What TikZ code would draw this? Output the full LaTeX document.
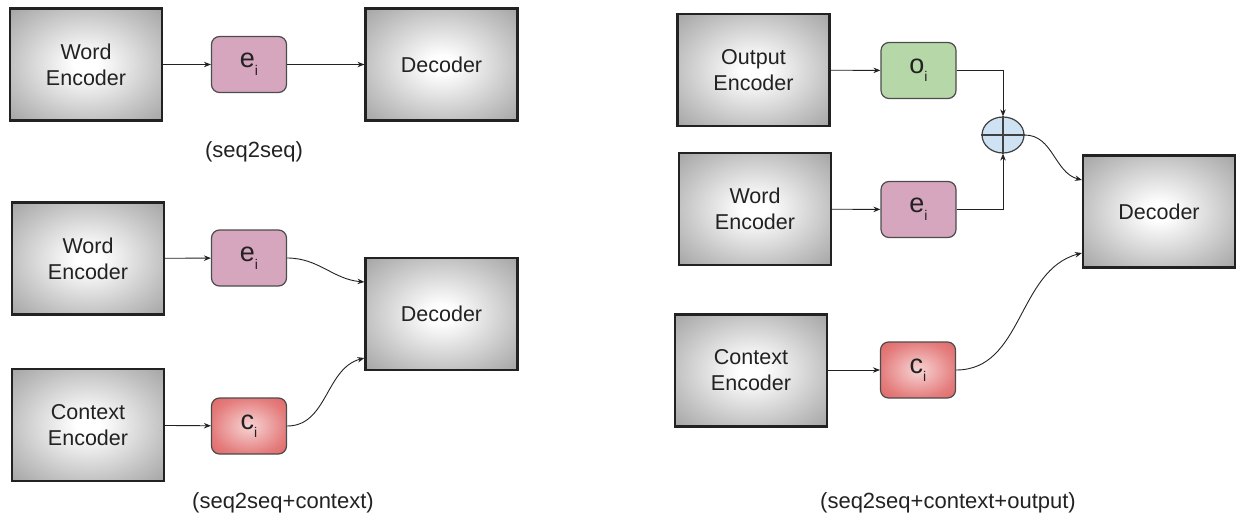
\documentclass[tikz,border=0pt]{standalone}
\usepackage{fontspec}
\setmainfont{Liberation Sans}
\usetikzlibrary{arrows.meta,shapes.geometric,calc}
\definecolor{pinkv}{HTML}{D5A6BD}
\definecolor{greenv}{HTML}{B6D7A8}
\definecolor{redout}{HTML}{E06666}
\definecolor{redin}{HTML}{F7D4D4}
\definecolor{bluev}{HTML}{CFE2F3}
\definecolor{ink}{HTML}{222222}
\pgfdeclareradialshading{boxshade}{\pgfpoint{0bp}{0bp}}{color(0bp)=(white); color(4bp)=(white); color(25bp)=(black!24); color(36bp)=(black!36); color(50bp)=(black!36)}
\pgfdeclareradialshading{redshade}{\pgfpoint{0bp}{0bp}}{color(0bp)=(redin); color(25bp)=(redout!85!white); color(36bp)=(redout); color(50bp)=(redout)}
\newcommand\mysub[1]{\raisebox{-8pt}{\fontsize{14}{14}\selectfont #1}}
\begin{document}
\begin{tikzpicture}[x=1pt,y=-1pt,
  bigbox/.style={draw=ink, line width=2.2pt, shading=boxshade,
    minimum width=152pt, minimum height=112pt, align=center, inner sep=0pt,
    font=\fontsize{21.5}{26}\selectfont, text=ink},
  vec/.style={draw=black!70, line width=1.2pt, rounded corners=8pt, minimum width=75pt,
    minimum height=56pt, inner sep=0pt, font=\fontsize{27}{28}\selectfont, text=ink},
  conn/.style={line width=0.9pt, draw=ink, -{Stealth[length=7pt,width=5.5pt]}},
  captext/.style={font=\fontsize{22}{24}\selectfont, text=ink}]
\useasboundingbox (0,0) rectangle (1238,516);

% ---- seq2seq ----
\node[bigbox] (we1) at (86,64.5) {Word\\Encoder};
\node[vec, fill=pinkv] (e1) at (249,64.5) {e\mysub{i}};
\node[bigbox] (dec1) at (441.5,64.5) {Decoder};
\node[captext] (cap1) at (254,152) {(seq2seq)};
\draw[conn] (we1) -- (e1);
\draw[conn] (e1) -- (dec1);

% ---- seq2seq+context ----
\node[bigbox] (we2) at (88,258.5) {Word\\Encoder};
\node[vec, fill=pinkv] (e2) at (249,258) {e\mysub{i}};
\node[bigbox] (ce2) at (88,425) {Context\\Encoder};
\node[vec, shading=redshade] (c2) at (249,426) {c\mysub{i}};
\node[bigbox] (dec2) at (441.5,314) {Decoder};
\node[captext] (cap2) at (283,503) {(seq2seq+context)};
\draw[conn] (we2) -- (e2);
\draw[conn] (ce2) -- (c2);
\draw[conn] (e2.east) to[out=0,in=175] ([yshift=32pt]dec2.west);
\draw[conn] (c2.east) to[out=0,in=195] ([yshift=-44pt]dec2.west);

% ---- seq2seq+context+output ----
\node[bigbox] (oe) at (753.5,70) {Output\\Encoder};
\node[vec, fill=greenv] (o3) at (918.5,70.5) {o\mysub{i}};
\node[bigbox] (we3) at (755,209) {Word\\Encoder};
\node[vec, fill=pinkv] (e3) at (918.5,209.5) {e\mysub{i}};
\node[bigbox] (ce3) at (751,370.5) {Context\\Encoder};
\node[vec, shading=redshade] (c3) at (918,370) {c\mysub{i}};
\node[bigbox] (dec3) at (1159,211.5) {Decoder};
\node[draw=black!75, line width=1.2pt, fill=bluev, ellipse, minimum width=42pt, minimum height=36pt, inner sep=0pt] (plus) at (1003,135) {};
\draw[black!75, line width=1.2pt] (plus.north) -- (plus.south) (plus.west) -- (plus.east);
\node[captext] (cap3) at (948,503) {(seq2seq+context+output)};
\draw[conn] (oe) -- (o3);
\draw[conn] (we3) -- (e3);
\draw[conn] (ce3.east |- c3) -- (c3);
\draw[conn] (o3.east) -| (plus.north);
\draw[conn] (e3.east) -| (plus.south);
\draw[conn] (plus.east) to[out=0,in=165] ([yshift=31.5pt]dec3.west);
\draw[conn] (c3.east) to[out=0,in=195] ([yshift=-41.5pt]dec3.west);
\end{tikzpicture}
\end{document}
